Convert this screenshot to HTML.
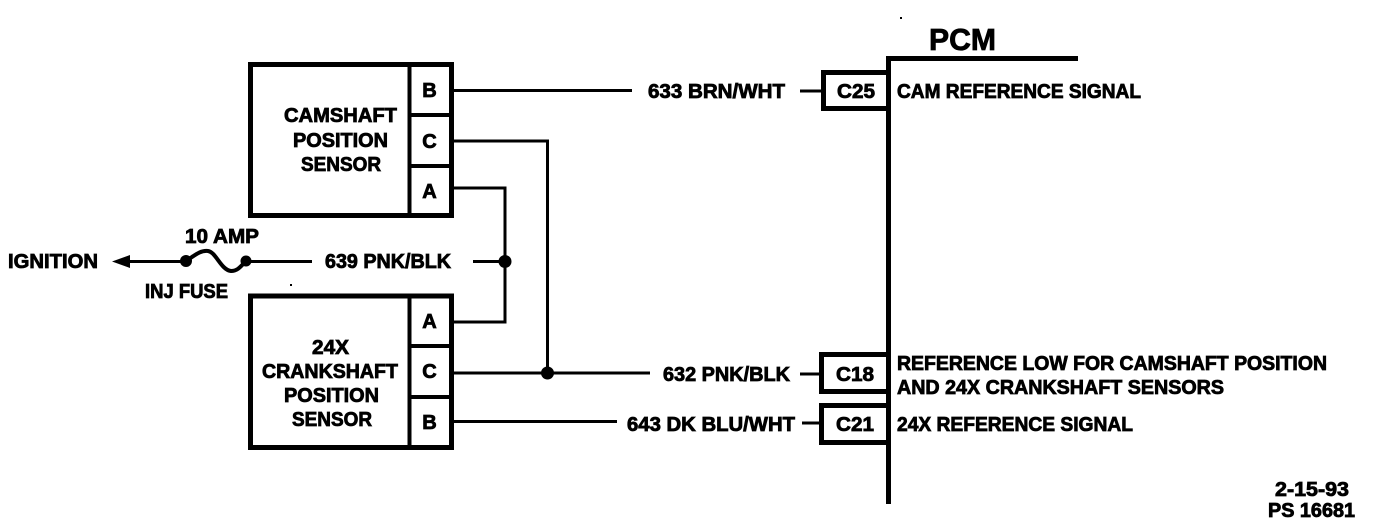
<!DOCTYPE html>
<html>
<head>
<meta charset="utf-8">
<style>
html,body{margin:0;padding:0;background:#fff;width:1376px;height:524px;overflow:hidden}
svg{display:block}
text{font-family:"Liberation Sans",sans-serif;font-weight:bold;fill:#000;stroke:#000;stroke-width:.8;font-size:20px}
.l{stroke:#000;fill:none}
</style>
</head>
<body>
<svg width="1376" height="524" viewBox="0 0 1376 524" xmlns="http://www.w3.org/2000/svg">
<!-- Sensor boxes -->
<g class="l" stroke-width="5">
<rect x="250.500" y="64.500" width="201" height="151"/>
<rect x="250.500" y="296" width="201" height="151.500"/>
</g>
<g class="l" stroke-width="4">
<path d="M409.500 64V215M409.500 296V447M409 115H451M409 166H451M409 346H451M409 397H451"/>
</g>
<!-- PCM -->
<path class="l" stroke-width="5" d="M888.500 504V58.500H1078"/>
<g class="l" stroke-width="5">
<path d="M888 72.500H823.500V108.500H888"/>
<path d="M888 354.500H821.500V391.500H888"/>
<path d="M888 405.500H821.500V442.500H888"/>
</g>
<!-- Wires -->
<g class="l" stroke-width="3">
<path d="M454 90.500H632M800 91H822"/>
<path d="M454 141H547.500V373"/>
<path d="M454 188H505V322H454"/>
<path d="M473 261.500H505"/>
<path d="M454 373H650M800 374H820"/>
<path d="M454 421.500H617M802 423H820"/>
<path d="M130 261.500H186M246 261.500H312"/>
</g>
<!-- Fuse -->
<path class="l" stroke-width="4" d="M186 261C194 256 200 250 208 251C216 252 221 270 231 271C238 271 241 266 246 261"/>
<circle cx="186" cy="261" r="6"/>
<circle cx="246" cy="261" r="5.500"/>
<circle cx="505" cy="261.500" r="6.500"/>
<circle cx="547.500" cy="373" r="6.500"/>
<polygon points="112,261.500 130,255 130,268"/>
<!-- Labels -->
<text x="429.500" y="97" text-anchor="middle">B</text>
<text x="429.500" y="148" text-anchor="middle">C</text>
<text x="429.500" y="198" text-anchor="middle">A</text>
<text x="429.500" y="328" text-anchor="middle">A</text>
<text x="429.500" y="378" text-anchor="middle">C</text>
<text x="429.500" y="429" text-anchor="middle">B</text>
<text x="284" y="122" textLength="113" lengthAdjust="spacingAndGlyphs">CAMSHAFT</text>
<text x="293" y="147" textLength="95" lengthAdjust="spacingAndGlyphs">POSITION</text>
<text x="301" y="171" textLength="80" lengthAdjust="spacingAndGlyphs">SENSOR</text>
<text x="312" y="354" textLength="37" lengthAdjust="spacingAndGlyphs">24X</text>
<text x="262" y="378" textLength="136" lengthAdjust="spacingAndGlyphs">CRANKSHAFT</text>
<text x="284" y="402" textLength="95" lengthAdjust="spacingAndGlyphs">POSITION</text>
<text x="292" y="426" textLength="80" lengthAdjust="spacingAndGlyphs">SENSOR</text>
<text x="8" y="268" textLength="90" lengthAdjust="spacingAndGlyphs">IGNITION</text>
<text x="185" y="243" textLength="74" lengthAdjust="spacingAndGlyphs">10 AMP</text>
<text x="145" y="298" textLength="83" lengthAdjust="spacingAndGlyphs">INJ FUSE</text>
<text x="325" y="268" textLength="126" lengthAdjust="spacingAndGlyphs">639 PNK/BLK</text>
<text x="648" y="98" textLength="137" lengthAdjust="spacingAndGlyphs">633 BRN/WHT</text>
<text x="663" y="381" textLength="127" lengthAdjust="spacingAndGlyphs">632 PNK/BLK</text>
<text x="627" y="431" textLength="168" lengthAdjust="spacingAndGlyphs">643 DK BLU/WHT</text>
<text x="837" y="98" textLength="38" lengthAdjust="spacingAndGlyphs">C25</text>
<text x="836" y="381" textLength="38" lengthAdjust="spacingAndGlyphs">C18</text>
<text x="836" y="431" textLength="38" lengthAdjust="spacingAndGlyphs">C21</text>
<text x="929" y="50" textLength="67" lengthAdjust="spacingAndGlyphs" style="font-size:31px">PCM</text>
<text x="897" y="98" textLength="244" lengthAdjust="spacingAndGlyphs">CAM REFERENCE SIGNAL</text>
<text x="897" y="370" textLength="430" lengthAdjust="spacingAndGlyphs">REFERENCE LOW FOR CAMSHAFT POSITION</text>
<text x="897" y="394" textLength="327" lengthAdjust="spacingAndGlyphs">AND 24X CRANKSHAFT SENSORS</text>
<text x="897" y="431" textLength="236" lengthAdjust="spacingAndGlyphs">24X REFERENCE SIGNAL</text>
<text x="1275" y="496" textLength="74" lengthAdjust="spacingAndGlyphs">2-15-93</text>
<text x="1268" y="517" textLength="87" lengthAdjust="spacingAndGlyphs">PS 16681</text>
<!-- Specks -->
<rect x="900" y="17" width="2" height="2"/>
<rect x="290" y="284" width="2" height="2"/>
</svg>
</body>
</html>
